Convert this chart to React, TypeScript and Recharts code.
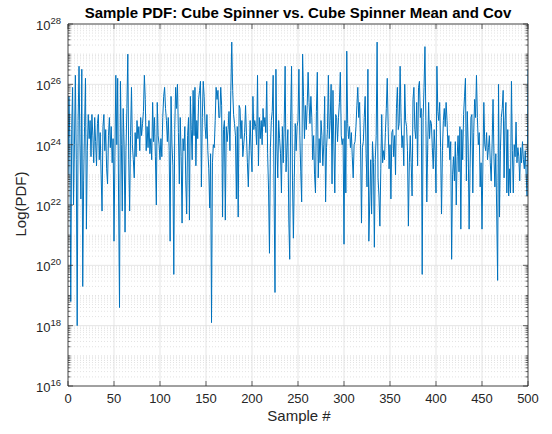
import { LineChart, Line, XAxis, YAxis, CartesianGrid } from "recharts";

// log10(PDF) per sample
const samples0to99 = [
  23.0, 25.6, 24.2, 18.8, 24.5, 25.9, 22.0, 24.0, 26.3, 23.5,
  18.0, 24.8, 26.6, 24.0, 22.2, 26.5, 19.3, 22.8, 24.6, 26.2,
  21.2, 23.8, 25.0, 24.2, 24.8, 23.6, 25.0, 24.3, 23.4, 24.9,
  24.1, 23.3, 24.7, 25.0, 23.5, 24.4, 23.0, 21.8, 24.6, 25.0,
  23.8, 24.5, 23.2, 22.7, 24.3, 24.9, 23.9, 24.6, 23.4, 24.2,
  20.8, 23.6, 26.3, 24.0, 26.2, 22.1, 18.6, 26.1, 24.0, 21.8,
  25.2, 24.0, 21.1, 23.8, 25.2, 27.0, 23.5, 21.8, 24.3, 25.9,
  24.0, 23.5, 22.9, 24.4, 23.6, 24.8, 24.2, 24.6, 23.8, 24.9,
  24.3, 24.7, 25.1, 26.3, 25.5, 23.8, 24.6, 23.9, 24.8, 23.7,
  24.2, 23.5, 25.4, 24.1, 24.9, 23.6, 22.0, 25.4, 24.3, 24.0,
];
const samples100to199 = [
  23.5, 24.2, 23.6, 24.9, 25.6, 25.9, 25.2, 24.8, 24.1, 24.9,
  23.8, 20.8, 25.6, 24.0, 23.3, 19.7, 24.5, 25.9, 25.2, 26.0,
  24.4, 22.7, 24.9, 23.6, 21.4, 24.2, 23.8, 24.6, 22.8, 21.7,
  24.3, 24.9, 21.5, 25.6, 24.5, 23.5, 25.8, 24.3, 25.9, 23.3,
  24.8, 24.2, 25.5, 25.8, 26.1, 22.6, 24.9, 26.1, 25.6, 24.6,
  24.2, 25.0, 23.8, 23.2, 21.9, 23.7, 18.1, 23.4, 24.0, 23.9,
  24.8, 25.9, 25.5, 25.8, 24.9, 24.9, 25.9, 25.3, 21.6, 24.5,
  24.8, 21.5, 24.6, 24.1, 24.5, 25.1, 23.8, 25.8, 27.4, 25.8,
  25.0, 24.7, 24.3, 22.2, 24.6, 21.6, 25.3, 25.2, 24.2, 24.8,
  23.6, 24.0, 24.4, 25.3, 24.3, 23.4, 22.6, 23.8, 24.8, 23.8,
];
const samples200to299 = [
  23.1, 25.6, 24.5, 24.8, 24.6, 24.0, 26.3, 23.3, 24.9, 24.2,
  24.8, 24.0, 25.2, 24.6, 24.9, 24.4, 26.1, 23.7, 22.5, 20.4,
  23.9, 24.8, 25.1, 26.3, 22.4, 19.1, 26.5, 24.0, 22.9, 24.8,
  24.2, 23.7, 22.4, 24.6, 23.4, 24.7, 26.6, 23.1, 23.9, 24.5,
  21.5, 20.2, 24.8, 26.6, 22.8, 20.9, 22.9, 24.7, 23.8, 24.6,
  24.8, 26.5, 24.3, 23.1, 22.1, 27.0, 25.6, 24.2, 25.3, 24.5,
  25.3, 26.4, 25.4, 24.7, 25.6, 24.9, 23.5, 24.3, 23.0, 22.4,
  25.1, 26.4, 22.9, 24.2, 23.4, 24.8, 24.3, 23.3, 24.0, 25.6,
  22.1, 23.9, 24.5, 26.3, 24.2, 24.8, 26.0, 22.7, 25.8, 24.0,
  22.4, 25.0, 24.9, 24.1, 24.9, 25.4, 26.4, 24.3, 24.0, 24.2,
];
const samples300to399 = [
  20.7, 24.8, 22.4, 27.1, 24.7, 24.2, 24.6, 23.9, 24.4, 23.6,
  22.9, 24.0, 24.1, 24.6, 25.3, 25.9, 24.9, 25.4, 24.0, 21.4,
  23.9, 24.1, 24.9, 25.6, 23.7, 22.6, 26.5, 20.8, 22.1, 23.5,
  21.7, 24.1, 23.4, 20.6, 23.5, 24.3, 27.4, 22.9, 22.3, 21.3,
  23.2, 25.0, 23.4, 23.8, 23.5, 24.4, 25.2, 26.2, 24.6, 23.2,
  24.0, 22.2, 24.4, 24.5, 23.6, 24.3, 23.0, 25.2, 25.9, 24.5,
  24.7, 26.6, 24.9, 23.9, 24.3, 23.3, 26.0, 24.8, 24.6, 23.8,
  21.3, 23.4, 24.3, 23.4, 22.3, 25.5, 25.9, 24.5, 24.2, 25.4,
  23.3, 25.9, 26.1, 24.9, 25.2, 19.7, 24.9, 25.9, 27.25, 24.8,
  22.1, 24.0, 25.4, 24.2, 24.8, 24.7, 23.9, 23.2, 24.5, 23.8,
];
const samples400to500 = [
  22.4, 26.6, 25.1, 24.8, 25.4, 23.9, 21.7, 23.8, 24.8, 25.2,
  24.6, 25.4, 24.8, 23.9, 24.3, 23.5, 24.1, 20.2, 23.0, 23.6,
  22.8, 24.1, 22.0, 23.6, 24.3, 23.1, 24.6, 21.2, 24.5, 23.5,
  25.0, 25.6, 26.2, 22.8, 25.1, 24.0, 21.2, 23.2, 24.9, 25.0,
  22.4, 24.4, 25.5, 24.9, 26.3, 24.9, 24.0, 24.4, 22.6, 23.4,
  21.2, 23.4, 25.4, 24.0, 23.8, 24.4, 23.5, 23.9, 24.3, 23.4,
  22.8, 24.0, 25.5, 23.6, 22.6, 23.7, 21.7, 19.5, 26.0, 21.6,
  23.8, 24.9, 25.2, 25.8, 22.9, 24.8, 25.4, 22.4, 24.5, 22.3,
  23.2, 22.4, 26.1, 23.8, 22.4, 24.0, 23.6, 24.75, 23.4, 23.9,
  23.6, 22.8, 23.9, 23.4, 24.1, 23.5, 23.2, 23.8, 23.0, 22.3,
  26.5,
];

const xTicks = [0, 50, 100, 150, 200, 250, 300, 350, 400, 450, 500];
const yDecades = [16, 18, 20, 22, 24, 26, 28];

const logPdf = [
  ...samples0to99,
  ...samples100to199,
  ...samples200to299,
  ...samples300to399,
  ...samples400to500,
];
const data = logPdf.map((e, i) => ({ sample: i, pdf: Math.pow(10, e) }));

const majorY = yDecades.map((d) => Math.pow(10, d));
const minorY: number[] = [];
for (let d = 16; d < 28; d++) {
  for (let k = 1; k <= 9; k++) {
    if (k === 1 && d % 2 === 0) continue;
    minorY.push(k * Math.pow(10, d));
  }
}
const allY = [...majorY, ...minorY].sort((a, b) => a - b);

const FONT = '"Liberation Sans", Arial, Helvetica, sans-serif';
const INK = "#262626";

function isMajor(v: number) {
  const e = Math.log10(v);
  const n = Math.round(e);
  return Math.abs(e - n) < 1e-6 && n % 2 === 0;
}

function LeftTick(props: any) {
  const { x, y, payload } = props;
  const major = isMajor(payload.value);
  const n = Math.round(Math.log10(payload.value));
  return (
    <g>
      <line x1={x} x2={x + (major ? 5 : 2.5)} y1={y} y2={y} stroke={INK} strokeWidth={0.7} />
      {major && (
        <text x={x - 7} y={y + 6} textAnchor="end" fontSize={13} fill={INK} fontFamily={FONT}>
          10<tspan dy={-6} fontSize={9.5}>{n}</tspan>
        </text>
      )}
    </g>
  );
}

function RightTick(props: any) {
  const { x, y, payload } = props;
  const major = isMajor(payload.value);
  return <line x1={x} x2={x - (major ? 5 : 2.5)} y1={y} y2={y} stroke={INK} strokeWidth={0.7} />;
}

function BottomTick(props: any) {
  const { x, y, payload } = props;
  return (
    <g>
      <line x1={x} x2={x} y1={y} y2={y - 5} stroke={INK} strokeWidth={0.7} />
      <text x={x} y={y + 17} textAnchor="middle" fontSize={13} fill={INK} fontFamily={FONT}>
        {payload.value}
      </text>
    </g>
  );
}

function TopTick(props: any) {
  const { x, y } = props;
  return <line x1={x} x2={x} y1={y} y2={y + 5} stroke={INK} strokeWidth={0.7} />;
}

export default function App() {
  return (
    <div style={{ position: "absolute", left: 0, top: 0, width: 552, height: 434, background: "#fff" }}>
      <LineChart width={552} height={434} data={data} margin={{ top: 23, right: 23, bottom: 18, left: 8 }}>
        <CartesianGrid
          horizontalValues={minorY}
          vertical={false}
          stroke="#cfcfcf"
          strokeDasharray="1 2"
          strokeWidth={0.6}
        />
        <CartesianGrid horizontalValues={majorY} verticalValues={xTicks} stroke="#dedede" strokeWidth={0.8} />
        <XAxis
          dataKey="sample"
          type="number"
          domain={[0, 500]}
          ticks={xTicks}
          interval={0}
          allowDataOverflow
          height={30}
          tickSize={0}
          tickMargin={0}
          tickLine={false}
          axisLine={{ stroke: INK, strokeWidth: 0.8 }}
          tick={BottomTick}
        />
        <XAxis
          xAxisId="top"
          orientation="top"
          type="number"
          domain={[0, 500]}
          ticks={xTicks}
          interval={0}
          allowDataOverflow
          height={1}
          tickSize={0}
          tickMargin={0}
          tickLine={false}
          axisLine={{ stroke: INK, strokeWidth: 0.8 }}
          tick={TopTick}
        />
        <YAxis
          scale="log"
          type="number"
          domain={[1e16, 1e28]}
          ticks={allY}
          interval={0}
          allowDataOverflow
          width={60}
          tickSize={0}
          tickMargin={0}
          tickLine={false}
          axisLine={{ stroke: INK, strokeWidth: 0.8 }}
          tick={LeftTick}
        />
        <YAxis
          yAxisId="right"
          orientation="right"
          scale="log"
          type="number"
          domain={[1e16, 1e28]}
          ticks={allY}
          interval={0}
          allowDataOverflow
          width={1}
          tickSize={0}
          tickMargin={0}
          tickLine={false}
          axisLine={{ stroke: INK, strokeWidth: 0.8 }}
          tick={RightTick}
        />
        <Line
          type="linear"
          dataKey="pdf"
          stroke="#0072BD"
          strokeWidth={1}
          dot={false}
          activeDot={false}
          isAnimationActive={false}
        />
      </LineChart>
      <svg
        width={552}
        height={434}
        style={{ position: "absolute", left: 0, top: 0, pointerEvents: "none" }}
        fontFamily={FONT}
      >
        <text x={298} y={18} textAnchor="middle" fontSize={15} fontWeight="bold" fill="#000">
          Sample PDF: Cube Spinner vs. Cube Spinner Mean and Cov
        </text>
        <text x={299} y={421} textAnchor="middle" fontSize={15} fill={INK}>
          Sample #
        </text>
        <text x={26} y={204} textAnchor="middle" fontSize={15} fill={INK} transform="rotate(-90 26 204)">
          Log(PDF)
        </text>
      </svg>
    </div>
  );
}
